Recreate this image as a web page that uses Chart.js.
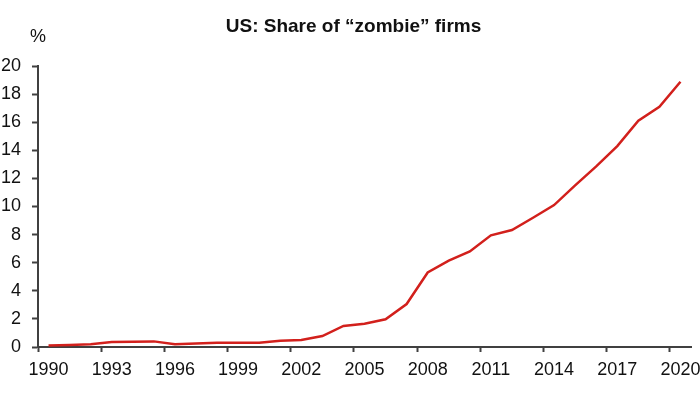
<!DOCTYPE html>
<html>
<head>
<meta charset="utf-8">
<script src="https://cdn.jsdelivr.net/npm/chart.js@4"></script>
<style>
  html, body { margin: 0; padding: 0; background: #fff; }
  #wrap { width: 700px; height: 394px; }
</style>
</head>
<body>
<div id="wrap"><canvas id="zombieChart" width="700" height="394"></canvas></div>
<script>
// years shown on the x axis (one point per year)
const years = ['1990', '1991', '1992', '1993', '1994', '1995', '1996', '1997', '1998', '1999',
  '2000', '2001', '2002', '2003', '2004', '2005', '2006', '2007', '2008', '2009',
  '2010', '2011', '2012', '2013', '2014', '2015', '2016', '2017', '2018', '2019', '2020'];

// share of zombie firms, %
const zombieShare = [0.1, 0.15, 0.2, 0.35, 0.38, 0.4, 0.2, 0.25, 0.3, 0.3,
  0.3, 0.45, 0.5, 0.78, 1.5, 1.65, 1.97, 3.06, 5.3, 6.15,
  6.8, 7.95, 8.33, 9.2, 10.1, 11.5, 12.85, 14.3, 16.1, 17.1, 18.88];

const yTicks = [0, 2, 4, 6, 8, 10, 12, 14, 16, 18, 20];

const chartTitle = 'US: Share of \u201Czombie\u201D firms';
const axisColor = '#404040';
const font = "'Liberation Sans', Arial, sans-serif";

// draws the title and the "%" unit above the plot
const headerText = {
  id: 'headerText',
  afterDraw(chart) {
    const ctx = chart.ctx;
    const area = chart.chartArea;
    ctx.save();
    ctx.fillStyle = '#111';
    ctx.textAlign = 'center';
    ctx.textBaseline = 'alphabetic';
    ctx.font = 'bold 19px ' + font;
    ctx.fillText(chartTitle, chart.width / 2 + 3.5, area.top - 34);
    ctx.font = '18px ' + font;
    ctx.textBaseline = 'middle';
    ctx.fillText('%', area.left, area.top - 29);
    ctx.restore();
  }
};

const ctx = document.getElementById('zombieChart').getContext('2d');
new Chart(ctx, {
  type: 'line',
  data: {
    labels: years,
    datasets: [{
      label: 'Share of zombie firms',
      data: zombieShare,
      borderColor: '#d2201c',
      borderWidth: 2.5,
      pointRadius: 0,
      tension: 0,
      fill: false
    }]
  },
  options: {
    responsive: false,
    animation: false,
    layout: { padding: { left: 0, right: 9, top: 66, bottom: 0 } },
    plugins: {
      legend: { display: false },
      tooltip: { enabled: false },
      title: { display: false }
    },
    scales: {
      x: {
        type: 'category',
        offset: true,
        border: { display: true, color: axisColor, width: 2 },
        grid: {
          offset: true,
          drawOnChartArea: false,
          drawTicks: true,
          tickLength: 5,
          tickWidth: 2,
          tickColor: c => (c.index % 3 === 0 && c.index < years.length ? axisColor : 'rgba(0,0,0,0)')
        },
        ticks: {
          autoSkip: false,
          maxRotation: 0,
          padding: 7,
          color: '#111',
          font: { family: font, size: 18 },
          callback: function (val, index) {
            return index % 3 === 0 ? this.getLabelForValue(val) : '';
          }
        },
        afterFit: scale => {
          scale.height = 47;
          scale.paddingLeft = 0;
          scale.paddingRight = 0;
        }
      },
      y: {
        min: 0,
        max: 20,
        border: { display: true, color: axisColor, width: 2 },
        grid: {
          drawOnChartArea: false,
          drawTicks: true,
          tickLength: 6,
          tickWidth: 2,
          tickColor: axisColor
        },
        afterBuildTicks: scale => {
          scale.ticks = yTicks.map(v => ({ value: v }));
        },
        ticks: {
          padding: 11,
          color: '#111',
          font: { family: font, size: 18 }
        },
        afterFit: scale => {
          scale.width = 38;
        }
      }
    }
  },
  plugins: [headerText]
});
</script>
</body>
</html>
